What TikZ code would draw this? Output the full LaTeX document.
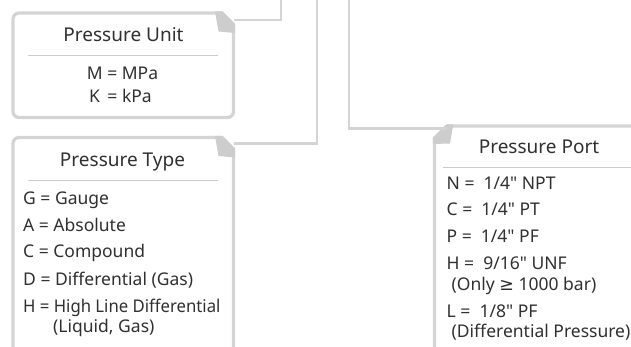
\documentclass[tikz,border=0pt]{standalone}
\usepackage{graphicx}
\usepackage{fontspec}
\setmainfont{Noto Sans}[Ligatures=TeXOff]
\newfontfamily\symf{DejaVu Sans}
\newcommand\dq{\char34\relax}
\definecolor{bd}{HTML}{D4D4D4}
\definecolor{fold}{HTML}{CDCDCD}
\definecolor{sepc}{HTML}{CBCBCB}
\definecolor{txt}{HTML}{303030}
\begin{document}
\begin{tikzpicture}[x=1pt,y=-1pt,
  boxline/.style={draw=bd,line width=3.2pt,line join=miter},
  conn/.style={draw=bd,line width=2.4pt},
  foldfill/.style={fill=fold},
  sepline/.style={draw=sepc,line width=1pt},
  ttl/.style={inner sep=0pt,anchor=base,text=txt,font=\fontsize{19}{22}\selectfont},
  itm/.style={inner sep=0pt,anchor=base west,text=txt,font=\fontsize{17.5}{20}\selectfont},
  itmc/.style={inner sep=0pt,anchor=base,text=txt,font=\fontsize{17.5}{20}\selectfont}]
\useasboundingbox (0,0) rectangle (631,347);
\clip (0,0) rectangle (631,347);
% ---- box 1: Pressure Unit
\draw[boxline] (222,13) -- (233.5,24.5) -- (233.5,111.5)
  arc[start angle=0,end angle=90,radius=6] -- (19,117.5)
  arc[start angle=90,end angle=180,radius=6] -- (13,19)
  arc[start angle=180,end angle=270,radius=6] -- cycle;
\fill[foldfill] (215,11.5) -- (222,11.5) -- (235.1,24.6) -- (235.1,33) -- (218.5,31.5) -- cycle;
\coordinate (u1) at (233.5,20);
\coordinate (u2) at (281,20);
\coordinate (u3) at (281,-5);
\draw[conn] (u1) -- (u2) -- (u3);
\draw[sepline] (28,56) -- (218,56);
\node[ttl] (tunit) at (123.5,41.5) {Pressure Unit};
\node[itmc] (m1) at (122.5,80) {M = MPa};
\node[itmc] (k1) at (120.5,103) {K\, = kPa};
% ---- box 2: Pressure Type
\draw[boxline] (222,137.5) -- (233.5,149) -- (233.5,365) -- (13,365) -- (13,143.5)
  arc[start angle=180,end angle=270,radius=6] -- cycle;
\fill[foldfill] (215,136) -- (222,136) -- (235.1,149.1) -- (235.1,157.5) -- (218.5,156) -- cycle;
\coordinate (t1) at (233.5,143.5);
\coordinate (t2) at (317,143.5);
\coordinate (t3) at (317,-5);
\draw[conn] (t1) -- (t2) -- (t3);
\draw[sepline] (28,181) -- (218,181);
\node[ttl] (ttype) at (122.5,166.5) {Pressure Type};
\node[itm] (g) at (23,205) {G = Gauge};
\node[itm] (a) at (23,232) {A = Absolute};
\node[itm] (c) at (23,257.5) {C = Compound};
\node[itm] (d) at (23,285) {D = Differential (Gas)};
\node[itm] (h) at (23,312) {\scalebox{0.955}[1]{H = High Line Differential}};
\node[itm] (hl) at (53,332) {(Liquid, Gas)};
% ---- box 3: Pressure Port
\draw[boxline] (434.5,138) -- (447,126) -- (660,126) -- (660,365) -- (434.5,365) -- cycle;
\fill[foldfill] (446.5,124.3) -- (453.3,124.3) -- (450,143.5) -- (432.9,144) -- (432.9,138.3) -- cycle;
\coordinate (p1) at (349,-5);
\coordinate (p2) at (349,128.5);
\coordinate (p3) at (447,128.5);
\draw[conn] (p1) -- (p2) -- (p3);
\draw[sepline] (443,168) -- (640,168);
\node[ttl] (tport) at (539,153.5) {Pressure Port};
\node[itm] (n) at (446.5,190) {N = \ 1/4\dq{} NPT};
\node[itm] (cp) at (446.5,216) {C = \ 1/4\dq{} PT};
\node[itm] (pp) at (446.5,242.5) {P = \ 1/4\dq{} PF};
\node[itm] (hp) at (446.5,269) {H = \ 9/16\dq{} UNF};
\node[itm] (onl) at (451.5,290) {(Only {\symf ≥} 1000 bar)};
\node[itm] (lp) at (446.5,317) {L = \ 1/8\dq{} PF};
\node[itm] (dp) at (451.5,337.5) {(Differential Pressure)};
\end{tikzpicture}
\end{document}
